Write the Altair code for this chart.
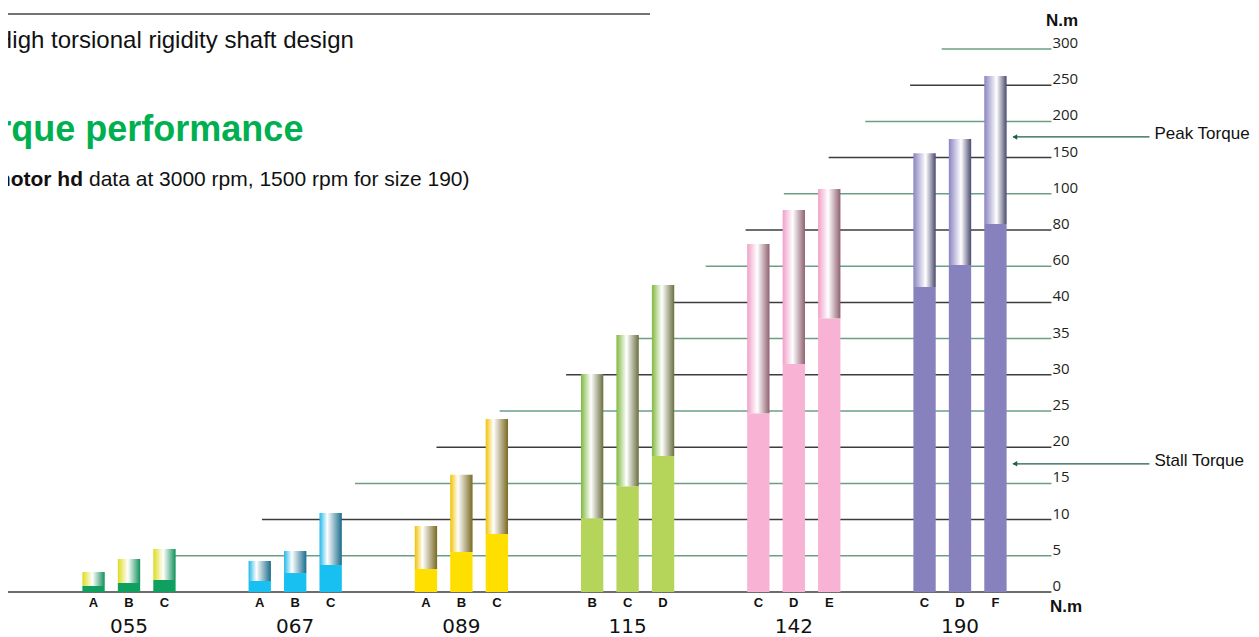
import altair as alt
import pandas as pd

# ---------------- data ----------------
groups = ["055", "067", "089", "115", "142", "190"]
variants = [["A", "B", "C"], ["A", "B", "C"], ["A", "B", "C"],
            ["B", "C", "D"], ["C", "D", "E"], ["C", "D", "F"]]
stall_torque = [[0.83, 1.24, 1.66], [1.52, 2.62, 3.73], [3.18, 5.52, 8.0],
                [10.2, 14.6, 18.8], [24.7, 31.5, 37.8], [48.5, 60.7, 83.3]]
peak_torque = [[2.76, 4.56, 5.94], [4.28, 5.66, 10.9], [9.12, 16.2, 23.9],
               [30.1, 35.5, 49.6], [72.3, 91.0, 106.6], [156, 175.7, 262.7]]

y_ticks = [0, 5, 10, 15, 20, 25, 30, 35, 40, 60, 80, 100, 150, 200, 250, 300]
# where each reference line begins, in "group" units along the x axis
grid_start = [-0.8, 0.22, 0.80, 1.36, 1.85, 2.23, 2.63, 3.0, 3.21,
              3.47, 3.71, 3.94, 4.21, 4.43, 4.70, 4.89]
grid_end = 5.55

peak_label_value = 178.5
stall_label_value = 17.7

# ---------------- styles ----------------
stall_colors = ["#0fa060", "#17c0f0", "#ffdf00", "#b4d45a", "#f7b2d4", "#8782bd"]
peak_grad = [("#dcdc1e", 0.45, "#11905a"),
             ("#22b8e8", 0.35, "#1a6d8c"),
             ("#f2c200", 0.35, "#7a6a22"),
             ("#80b840", 0.45, "#6a7040"),
             ("#f0a0c8", 0.45, "#906070"),
             ("#8a84c0", 0.55, "#4a4a70")]
grid_colors = {"dark": "#3c3c3c", "green": "#6b9f82"}

W, H = 1243, 629
BASE, STEP = 584.0, 36.2
X0, X1 = 37.9, 1035.1

# ---------------- tables ----------------
rows = []
for gi, g in enumerate(groups):
    for si, v in enumerate(variants[gi]):
        rows.append({"group": g, "slot": si, "variant": v,
                     "stall": stall_torque[gi][si], "peak": peak_torque[gi][si]})
bars = pd.DataFrame(rows)

grid = pd.DataFrame({
    "tick": y_ticks,
    "label": [str(t) for t in y_ticks],
    "start": grid_start,
    "end": [grid_end] * len(y_ticks),
    "kind": ["dark" if i % 2 == 0 else "green" for i in range(len(y_ticks))],
})

ann = pd.DataFrame({"label": ["Peak Torque", "Stall Torque"],
                    "value": [peak_label_value, stall_label_value]})

# ---------------- scales ----------------
yscale = alt.Scale(domain=y_ticks,
                   range=[BASE - i * STEP for i in range(len(y_ticks))],
                   nice=False, zero=False)
bx = alt.Scale(domain=groups, range=[X0, X1], paddingInner=0.36, paddingOuter=0.18)
bo = alt.Scale(domain=[0, 1, 2], paddingInner=0.37, paddingOuter=0.185)
qx = alt.Scale(domain=[-0.5, 5.5], range=[X0, X1], nice=False, zero=False)

FONT = "Liberation Sans"

grid_layers = []
for kind, col in grid_colors.items():
    grid_layers.append(
        alt.Chart(grid).transform_filter(alt.datum.kind == kind)
        .mark_rule(strokeWidth=1.5, color=col).encode(
            x=alt.X("start:Q", scale=qx, axis=None),
            x2="end:Q",
            y=alt.Y("tick:Q", scale=yscale, axis=None),
        )
    )

tick_labels = alt.Chart(grid).mark_text(
    font="Open Sans", fontSize=15, align="left", baseline="alphabetic",
    dx=1, dy=-1, color="#231f20"
).encode(
    x=alt.X("end:Q", scale=qx, axis=None),
    y=alt.Y("tick:Q", scale=yscale, axis=None),
    text="label:N",
)

bar_layers = []
for gi, g in enumerate(groups):
    c1, mid, c2 = peak_grad[gi]
    grad = alt.Gradient(
        gradient="linear", x1=0, x2=1, y1=0, y2=0,
        stops=[alt.GradientStop(offset=0, color=c1),
               alt.GradientStop(offset=mid, color="#ffffff"),
               alt.GradientStop(offset=1, color=c2)])
    base = alt.Chart(bars).transform_filter(alt.datum.group == g)
    bar_layers.append(
        base.mark_bar(color=stall_colors[gi]).encode(
            x=alt.X("group:N", scale=bx, axis=None),
            xOffset=alt.XOffset("slot:O", scale=bo),
            y=alt.Y("stall:Q", scale=yscale, axis=None, stack=None),
            y2=alt.Y2Datum(0),
        )
    )
    bar_layers.append(
        base.mark_bar(fill=grad).encode(
            x=alt.X("group:N", scale=bx, axis=None),
            xOffset=alt.XOffset("slot:O", scale=bo),
            y=alt.Y("peak:Q", scale=yscale, axis=None, stack=None),
            y2="stall:Q",
        )
    )

variant_labels = alt.Chart(bars).mark_text(
    font=FONT, fontWeight="bold", fontSize=13, baseline="middle", dy=11, color="#111"
).encode(
    x=alt.X("group:N", scale=bx, axis=None),
    xOffset=alt.XOffset("slot:O", scale=bo),
    y=alt.YDatum(0, scale=yscale, axis=None),
    text="variant:N",
)

group_labels = alt.Chart(pd.DataFrame({"group": groups})).mark_text(
    font="DejaVu Sans", fontSize=20, baseline="middle", dy=35, color="#111"
).encode(
    x=alt.X("group:N", scale=bx, axis=None),
    y=alt.YDatum(0, scale=yscale, axis=None),
    text="group:N",
)

arrow_color = "#1e5e46"
ann_lines = alt.Chart(ann).mark_rule(color=arrow_color, strokeWidth=1.2).encode(
    x=alt.XDatum(5.32, scale=qx, axis=None),
    x2=alt.X2Datum(6.14),
    y=alt.Y("value:Q", scale=yscale, axis=None),
)
ann_heads = alt.Chart(ann).mark_point(shape="triangle-left", filled=True, size=30,
                                      color=arrow_color, opacity=1).encode(
    x=alt.XDatum(5.33, scale=qx, axis=None),
    y=alt.Y("value:Q", scale=yscale, axis=None),
)
ann_text = alt.Chart(ann).mark_text(font=FONT, fontSize=17, align="left",
                                    baseline="middle", dy=-3, color="#111").encode(
    x=alt.XDatum(6.17, scale=qx, axis=None),
    y=alt.Y("value:Q", scale=yscale, axis=None),
    text="label:N",
)

one = pd.DataFrame({"k": [0]})


def txt(s, x, y, **kw):
    return alt.Chart(one).mark_text(align="left", baseline="alphabetic", **kw).encode(
        x=alt.value(x), y=alt.value(y), text=alt.value(s))


top_rule = alt.Chart(one).mark_rule(color="#444444", strokeWidth=1.5).encode(
    x=alt.value(-8), x2=alt.value(642), y=alt.value(6))

decor = [
    top_rule,
    txt("High torsional  rigidity shaft design", -13, 40, font=FONT, fontSize=24, color="#111"),
    txt("Torque performance", -52, 133, font=FONT, fontSize=36, fontWeight="bold", color="#00b050"),
    txt("motor hd", -16, 178, font=FONT, fontSize=21, fontWeight="bold", color="#111"),
    txt("data at 3000 rpm, 1500 rpm for size 190)", 81, 178, font=FONT, fontSize=21, color="#111"),
    txt("N.m", 1038, 18, font=FONT, fontSize=17, fontWeight="bold", color="#111"),
    txt("N.m", 1042, 604, font=FONT, fontSize=17, fontWeight="bold", color="#111"),
]

chart = alt.layer(
    *grid_layers, tick_labels, *bar_layers, variant_labels, group_labels,
    ann_lines, ann_heads, ann_text, *decor
).resolve_scale(x="independent").properties(
    width=W, height=H, padding=0,
    autosize=alt.AutoSizeParams(type="none"),
).configure_view(stroke=None)

chart.save("out.html", embed_options={"renderer": "svg", "actions": False})
